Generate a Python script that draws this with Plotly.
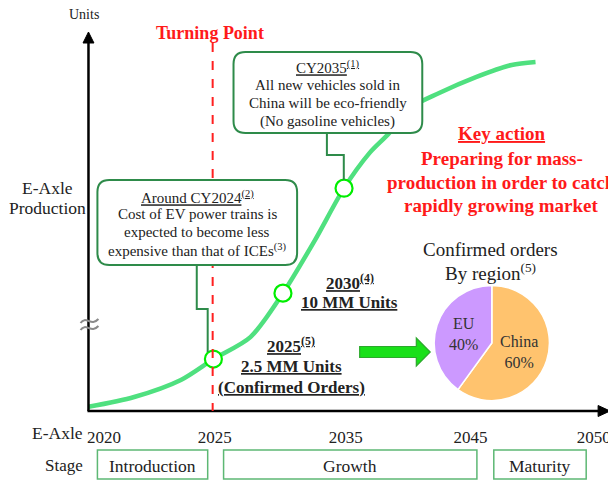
"""E-Axle production roadmap chart with Plotly."""
import plotly.graph_objects as go

# ---- data -------------------------------------------------------------
# schematic timeline position (1 unit ~ 25 px) and relative production index
timeline_pos = [0.0, 1.84, 3.72, 5.03, 6.52, 7.83, 9.12, 10.29, 11.32,
                12.12, 12.8, 14.12, 15.6, 17.04, 18.0]
production_idx = [1.1, 3.7, 8.2, 13.7, 19.5, 31.1, 45.1, 58.8, 68.1,
                  73.4, 79.4, 83.9, 88.1, 91.3, 92.1]

milestone_pos = [5.03, 7.83, 10.29]      # 2025, 2030, 2035
milestone_idx = [13.7, 31.1, 58.8]

tick_pos = [0.62, 5.08, 10.36, 15.38, 20.34]
tick_years = ['2020', '2025', '2035', '2045', '2050']

stage_names = ['Introduction', 'Growth', 'Maturity']

region_labels = ['China', 'EU']
region_share = [60, 40]

# ---- helpers ----------------------------------------------------------
# the page body has an 8px margin, so the figure is 8px smaller and all
# positions below are given in window pixels and shifted by that offset
OFF = 8
W, H = 616 - OFF, 480 - OFF
SERIF = 'Liberation Serif, Times New Roman, serif'
BOX_GREEN = '#2E8B4A'
STAGE_GREEN = '#5DB874'
RED = '#FF1A1A'


def px(x):
    return (x - OFF) / W


def py(y):
    return 1 - (y - OFF) / H


def rounded_rect(x0, y0, x1, y1, r=10):
    pts = [
        f'M {px(x0 + r)},{py(y0)}',
        f'L {px(x1 - r)},{py(y0)}',
        f'Q {px(x1)},{py(y0)} {px(x1)},{py(y0 + r)}',
        f'L {px(x1)},{py(y1 - r)}',
        f'Q {px(x1)},{py(y1)} {px(x1 - r)},{py(y1)}',
        f'L {px(x0 + r)},{py(y1)}',
        f'Q {px(x0)},{py(y1)} {px(x0)},{py(y1 - r)}',
        f'L {px(x0)},{py(y0 + r)}',
        f'Q {px(x0)},{py(y0)} {px(x0 + r)},{py(y0)}',
        'Z',
    ]
    return ' '.join(pts)


def poly(points):
    s = ' '.join(('M' if i == 0 else 'L') + f' {px(x)},{py(y)}'
                 for i, (x, y) in enumerate(points))
    return s + ' Z'


def polyline(points):
    return ' '.join(('M' if i == 0 else 'L') + f' {px(x)},{py(y)}'
                    for i, (x, y) in enumerate(points))


def tilde(x0, yc, w=18):
    # one wave of the axis-break mark
    return (f'M {px(x0)},{py(yc + 2)} '
            f'C {px(x0 + w * 0.3)},{py(yc - 6)} {px(x0 + w * 0.6)},{py(yc + 6)} '
            f'{px(x0 + w)},{py(yc - 2)}')


annotations = []


def text(x, y, s, size=15, color='#222', bold=False, family=SERIF):
    if bold:
        s = f'<b>{s}</b>'
    annotations.append(dict(
        x=px(x), y=py(y), xref='paper', yref='paper', text=s,
        showarrow=False, xanchor='center', yanchor='middle',
        font=dict(family=family, size=size, color=color)
    ))


# ---- figure -----------------------------------------------------------
fig = go.Figure()

fig.add_trace(go.Scatter(
    x=timeline_pos, y=production_idx, mode='lines',
    line=dict(color='#4FE07F', width=4.5, shape='spline', smoothing=0.8),
    hoverinfo='skip'
))

fig.add_trace(go.Scatter(
    x=milestone_pos, y=milestone_idx, mode='markers',
    marker=dict(size=17, color='white', line=dict(color='#00EE00', width=2.2)),
    hoverinfo='skip'
))

fig.add_trace(go.Pie(
    labels=region_labels, values=region_share, sort=False,
    direction='clockwise', rotation=0,
    marker=dict(colors=['#FFC36E', '#CC99FF'], line=dict(color='white', width=1.5)),
    texttemplate='%{label}<br>%{percent:.0%}', textposition='inside',
    insidetextorientation='horizontal',
    textfont=dict(family=SERIF, size=16, color='#333'),
    domain=dict(x=[px(435), px(551)], y=[py(401), py(285)]),
    hoverinfo='skip', showlegend=False
))

shapes = []

# axes with arrow heads
shapes.append(dict(type='line', xref='paper', yref='paper',
                   x0=px(87), y0=py(411), x1=px(87), y1=py(42),
                   line=dict(color='black', width=2.5)))
shapes.append(dict(type='path', xref='paper', yref='paper',
                   path=poly([(81.5, 43), (92.5, 43), (87, 32)]),
                   fillcolor='black', line=dict(color='black', width=1)))
shapes.append(dict(type='line', xref='paper', yref='paper',
                   x0=px(86), y0=py(411), x1=px(601), y1=py(411),
                   line=dict(color='black', width=2.5)))
shapes.append(dict(type='path', xref='paper', yref='paper',
                   path=poly([(600, 405.5), (600, 416.5), (612, 411)]),
                   fillcolor='black', line=dict(color='black', width=1)))

# axis break mark
for yc in (321, 328):
    shapes.append(dict(type='path', xref='paper', yref='paper',
                       path=tilde(79, yc), line=dict(color='#8A8A8A', width=2)))

# turning point dashed line
shapes.append(dict(type='line', xref='paper', yref='paper',
                   x0=px(212), y0=py(43), x1=px(212), y1=py(411),
                   line=dict(color='#FF2020', width=2, dash='dash')))

# callout boxes and connectors
shapes.append(dict(type='path', xref='paper', yref='paper',
                   path=polyline([(196, 265), (196, 309), (207, 309), (207, 352)]),
                   line=dict(color=BOX_GREEN, width=2)))
shapes.append(dict(type='path', xref='paper', yref='paper',
                   path=rounded_rect(96, 180, 297, 265, 12),
                   fillcolor='white', line=dict(color=BOX_GREEN, width=2)))
shapes.append(dict(type='path', xref='paper', yref='paper',
                   path=polyline([(327, 133), (327, 155), (344, 155), (344, 180)]),
                   line=dict(color=BOX_GREEN, width=2)))
shapes.append(dict(type='path', xref='paper', yref='paper',
                   path=rounded_rect(233, 52, 423, 133, 12),
                   fillcolor='white', line=dict(color=BOX_GREEN, width=2)))

# green block arrow to pie
shapes.append(dict(type='path', xref='paper', yref='paper',
                   path=poly([(360, 346.5), (417, 346.5), (417, 338), (431, 352),
                              (417, 366), (417, 357.5), (360, 357.5)]),
                   fillcolor='#19E019', line=dict(color='#2CA82C', width=1.2)))

# stage boxes
for (x0, x1) in [(96, 207), (223, 478), (495, 588)]:
    shapes.append(dict(type='rect', xref='paper', yref='paper',
                       x0=px(x0), y0=py(450), x1=px(x1), y1=py(479),
                       line=dict(color=STAGE_GREEN, width=1.5)))

# ---- texts ------------------------------------------------------------
text(82, 15, 'Units', size=14)
text(46, 188, 'E-Axle', size=17.5)
text(46, 208, 'Production', size=17.5)

text(209, 33, 'Turning Point', size=18, color=RED, bold=True)

text(196.5, 197, '<u>Around CY2024<sup>(2)</sup></u>', size=15)
text(196.5, 214, 'Cost of EV power trains is', size=15)
text(196.5, 232, 'expected to become less', size=15)
text(196.5, 250, 'expensive than that of ICEs<sup>(3)</sup>', size=15)

text(328, 67, '<u>CY2035<sup>(1)</sup></u>', size=15)
text(328, 85, 'All new vehicles sold in', size=15)
text(328, 103, 'China will be eco-friendly', size=15)
text(328, 121, '(No gasoline vehicles)', size=15)

text(503, 133, '<u>Key action</u>', size=19, color=RED, bold=True)
text(503, 158, 'Preparing for mass-', size=19, color=RED, bold=True)
text(503, 182, 'production in order to catch', size=19, color=RED, bold=True)
text(503, 205, 'rapidly growing market', size=19, color=RED, bold=True)

text(350, 282, '<u>2030<sup>(4)</sup></u>', size=17, bold=True)
text(350, 302, '<u>10 MM Units</u>', size=17, bold=True)

text(291, 345, '<u>2025<sup>(5)</sup></u>', size=17, bold=True)
text(291, 366, '<u>2.5 MM Units</u>', size=17, bold=True)
text(291, 387, '<u>(Confirmed Orders)</u>', size=17, bold=True)

text(492, 250, 'Confirmed orders', size=19)
text(492, 272, 'By region<sup>(5)</sup>', size=19)

text(56, 433, 'E-Axle', size=17.5)
text(62, 465, 'Stage', size=17)
for name, cx in zip(stage_names, [151.5, 350.5, 541.5]):
    text(cx, 466, name, size=17.5)

fig.update_layout(
    width=W, height=H,
    margin=dict(l=0, r=0, t=0, b=0),
    plot_bgcolor='white', paper_bgcolor='white',
    showlegend=False,
    xaxis=dict(
        domain=[px(87), px(611)], range=[0, 524 / 25],
        showgrid=False, zeroline=False, showline=False,
        tickvals=tick_pos, ticktext=tick_years, ticks='',
        ticklabelstandoff=14,
        tickfont=dict(family=SERIF, size=17, color='#222'),
        fixedrange=True
    ),
    yaxis=dict(
        domain=[py(411), py(32)], range=[0, 100],
        showgrid=False, zeroline=False, showline=False,
        showticklabels=False, fixedrange=True
    ),
    shapes=shapes,
    annotations=annotations,
)

fig.write_html("out.html")
